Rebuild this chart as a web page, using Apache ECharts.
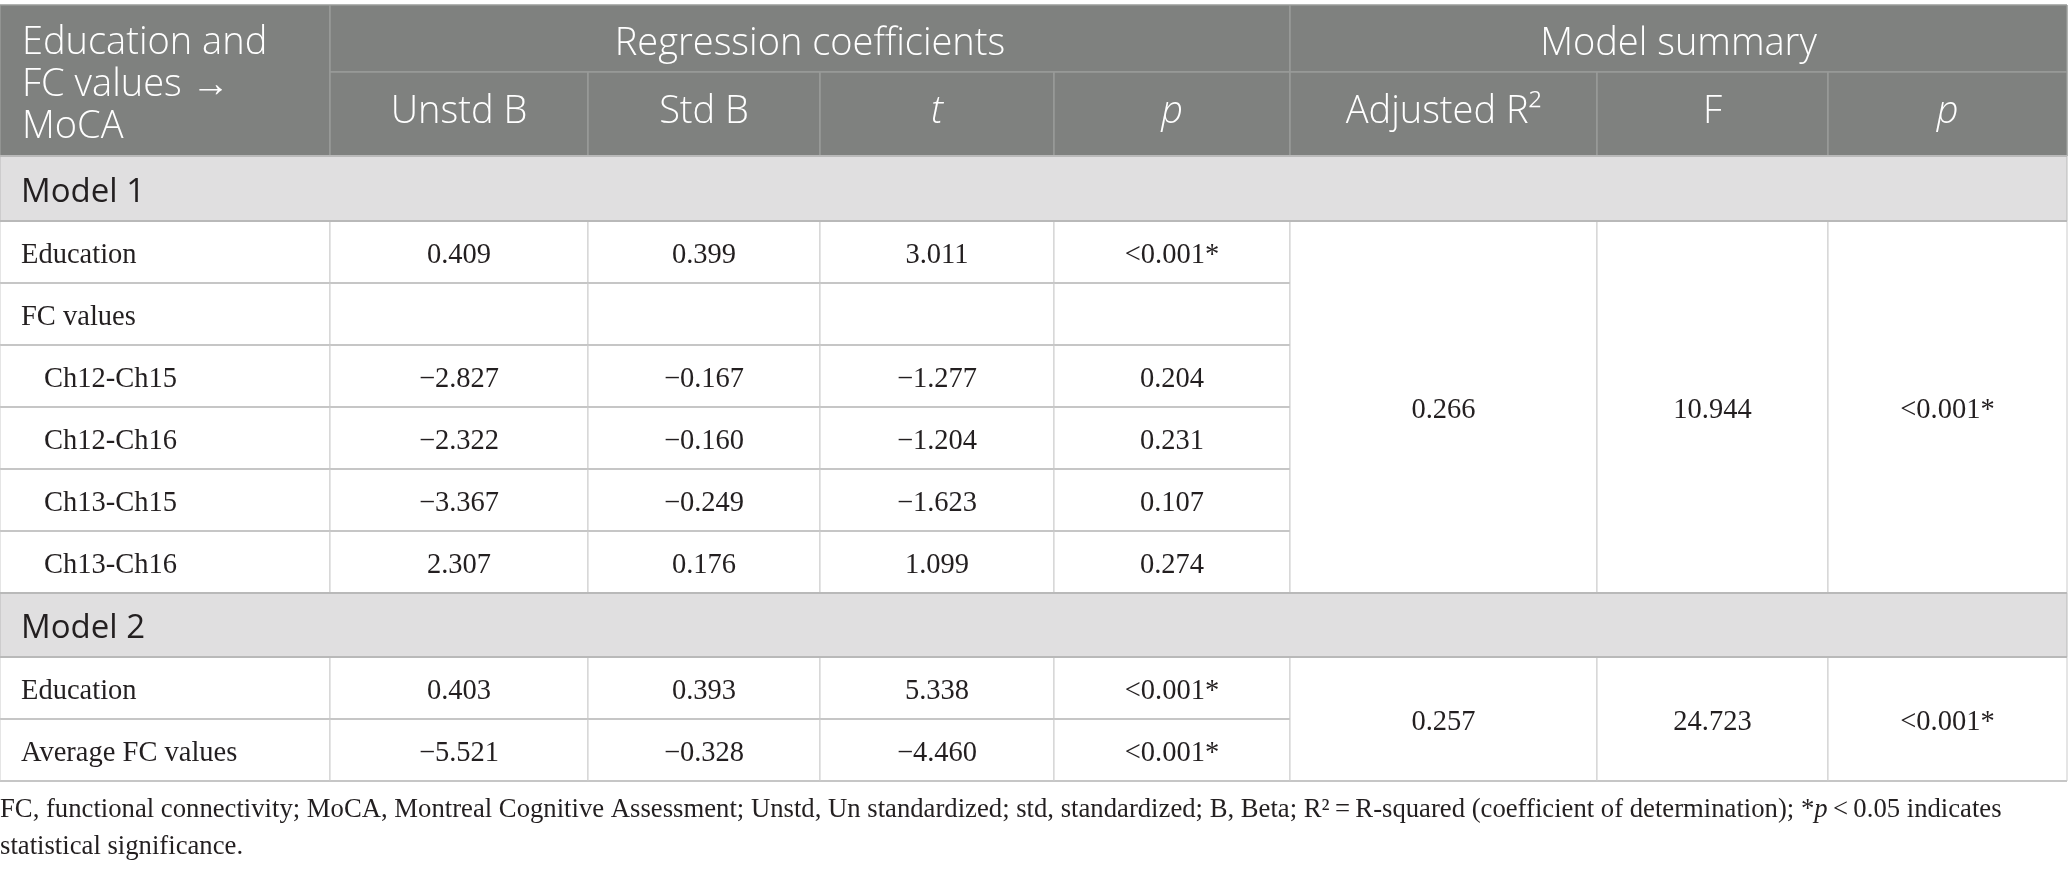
<!DOCTYPE html>
<html>
<head>
<meta charset="utf-8">
<title>Regression table</title>
<script src="https://cdn.jsdelivr.net/npm/echarts@6/dist/echarts.min.js"></script>
<style>
  html, body { margin: 0; padding: 0; background: #fff; }
  #chart { width: 2068px; height: 871px; }
</style>
</head>
<body>
<div id="chart"></div>
<script>
//== table content
var groupHeads = ['Regression coefficients', 'Model summary'];
var colHeads = ['Unstd B', 'Std B', 't', 'p', 'Adjusted R\u00b2', 'F', 'p'];
var italicHeads = ['t', 'p'];

var model1Labels = ['Education', 'FC values', 'Ch12-Ch15', 'Ch12-Ch16', 'Ch13-Ch15', 'Ch13-Ch16'];
var model1UnstdB = [0.409, null, -2.827, -2.322, -3.367, 2.307];
var model1StdB = [0.399, null, -0.167, -0.160, -0.249, 0.176];
var model1T = [3.011, null, -1.277, -1.204, -1.623, 1.099];
var model1P = ['<0.001*', null, 0.204, 0.231, 0.107, 0.274];
var model1Summary = [0.266, 10.944, '<0.001*'];

var model2Labels = ['Education', 'Average FC values'];
var model2UnstdB = [0.403, -5.521];
var model2StdB = [0.393, -0.328];
var model2T = [5.338, -4.460];
var model2P = ['<0.001*', '<0.001*'];
var model2Summary = [0.257, 24.723, '<0.001*'];

//== layout (pixel edges of the grid lines)
var colEdges = [0, 330, 588, 820, 1054, 1290, 1597, 1828, 2067];
var rowEdges = [5, 72, 156, 221, 283, 345, 407, 469, 531, 593, 657, 719, 781];

var HEAD_FILL = '#7f817f';
var HEAD_LINE = '#999b99';
var BAND_FILL = '#e0dfe0';
var BAND_LINE = '#b9b9b9';
var BODY_LINE = '#c6c6c6';
var INK = '#231f20';
var SANS = '"Open Sans", "Noto Sans", sans-serif';
var SERIF = '"Liberation Serif", "DejaVu Serif", serif';

var fmt = function (v) {
    if (v === null || v === undefined) return '';
    if (typeof v === 'string') return v;
    return (v < 0 ? '\u2212' : '') + Math.abs(v).toFixed(3);
};

var cells = [];
var addCell = function (c0, c1, r0, r1, text, kind, opts) {
    opts = opts || {};
    cells.push({
        value: [colEdges[c0], colEdges[c1], rowEdges[r0], rowEdges[r1]],
        text: text,
        kind: kind,
        align: opts.align || 'center',
        pad: opts.pad || 0,
        dy: opts.dy || 0,
        italic: !!opts.italic
    });
};

// body rows of a model block
var bodyRows = function (labels, cols, summary, firstRow, indentFrom) {
    for (var k = 0; k < labels.length; k++) {
        var r = firstRow + k;
        addCell(0, 1, r, r + 1, labels[k], 'body',
            {align: 'left', pad: k >= indentFrom ? 44 : 21, dy: 4});
        for (var c = 0; c < cols.length; c++) {
            addCell(c + 1, c + 2, r, r + 1, fmt(cols[c][k]), 'body', {dy: 4});
        }
    }
    for (var j = 0; j < summary.length; j++) {
        addCell(5 + j, 6 + j, firstRow, firstRow + labels.length, fmt(summary[j]), 'body', {dy: 4});
    }
};

bodyRows(model1Labels, [model1UnstdB, model1StdB, model1T, model1P], model1Summary, 3, 2);
bodyRows(model2Labels, [model2UnstdB, model2StdB, model2T, model2P], model2Summary, 10, 99);

// header
addCell(0, 1, 0, 2, 'Education and\nFC values \u2192\nMoCA', 'head', {align: 'left', pad: 22, dy: 5});
addCell(1, 5, 0, 1, groupHeads[0], 'head', {dy: 6});
addCell(5, 8, 0, 1, groupHeads[1], 'head', {dy: 6});
for (var h = 0; h < colHeads.length; h++) {
    addCell(h + 1, h + 2, 1, 2, colHeads[h], 'head',
        {italic: italicHeads.indexOf(colHeads[h]) >= 0, dy: -2});
}

// model bands
addCell(0, 8, 2, 3, 'Model 1', 'band', {align: 'left', pad: 21, dy: 4});
addCell(0, 8, 9, 10, 'Model 2', 'band', {align: 'left', pad: 21, dy: 4});

var line = function (x1, y1, x2, y2, color, width) {
    return {
        type: 'line',
        shape: {x1: x1, y1: y1, x2: x2, y2: y2},
        style: {stroke: color, lineWidth: width}
    };
};

var renderCell = function (params, api) {
    var cell = cells[params.dataIndex];
    var a = api.coord([api.value(0), api.value(2)]);
    var b = api.coord([api.value(1), api.value(3)]);
    var x0 = a[0], y0 = a[1], x1 = b[0], y1 = b[1];
    var fill = '#ffffff', hColor = BODY_LINE, vColor = '#cbcbcb', hw = 2, vw = 1;
    var font = {fontFamily: SERIF, fontSize: 28.5, fill: INK, fontWeight: 'normal'};
    if (cell.kind === 'head') {
        fill = HEAD_FILL; hColor = HEAD_LINE; vColor = HEAD_LINE; hw = 1.5; vw = 1.5;
        font = {fontFamily: SANS, fontSize: 38, fill: '#ffffff', lineHeight: 42, fontWeight: 350};
    } else if (cell.kind === 'band') {
        fill = BAND_FILL; hColor = BAND_LINE; vColor = BAND_LINE; hw = 2; vw = 1;
        font = {fontFamily: SANS, fontSize: 33, fill: INK, fontWeight: 'normal'};
    }
    var tx = cell.align === 'left' ? x0 + cell.pad : (x0 + x1) / 2;
    var textStyle = {
        text: cell.text,
        x: tx,
        y: (y0 + y1) / 2 + cell.dy,
        align: cell.align,
        verticalAlign: 'middle',
        fontFamily: font.fontFamily,
        fontSize: font.fontSize,
        fontWeight: font.fontWeight,
        fontStyle: cell.italic ? 'italic' : 'normal',
        fill: font.fill
    };
    if (font.lineHeight) textStyle.lineHeight = font.lineHeight;
    return {
        type: 'group',
        children: [
            {type: 'rect', shape: {x: x0, y: y0, width: x1 - x0, height: y1 - y0}, style: {fill: fill}},
            line(x0, y0, x1, y0, hColor, hw),
            line(x0, y1, x1, y1, hColor, hw),
            line(x0, y0, x0, y1, vColor, vw),
            line(x1, y0, x1, y1, vColor, vw),
            {type: 'text', style: textStyle}
        ]
    };
};

var footnote = 'FC, functional connectivity; MoCA, Montreal Cognitive Assessment; Unstd, Un standardized; ' +
    'std, standardized; B, Beta; R\u00b2\u2009=\u2009R-squared (coefficient of determination); ' +
    '*{i|p}\u2009<\u20090.05 indicates\nstatistical significance.';

var chart = echarts.init(document.getElementById('chart'));
chart.setOption({
    animation: false,
    title: {
        text: footnote,
        left: 0,
        top: 791,
        padding: 0,
        textStyle: {
            fontFamily: SERIF,
            fontSize: 26.7,
            fontWeight: 'normal',
            color: INK,
            lineHeight: 37,
            rich: {
                i: {fontFamily: SERIF, fontSize: 26.7, fontStyle: 'italic', color: INK, lineHeight: 37}
            }
        }
    },
    grid: {left: 0, right: 0, top: 0, bottom: 0},
    xAxis: {type: 'value', min: 0, max: 2068, show: false},
    yAxis: {type: 'value', min: 0, max: 871, inverse: true, show: false},
    series: [{
        type: 'custom',
        clip: false,
        renderItem: renderCell,
        encode: {x: [0, 1], y: [2, 3]},
        data: cells.map(function (c) { return c.value; })
    }]
});
</script>
</body>
</html>
